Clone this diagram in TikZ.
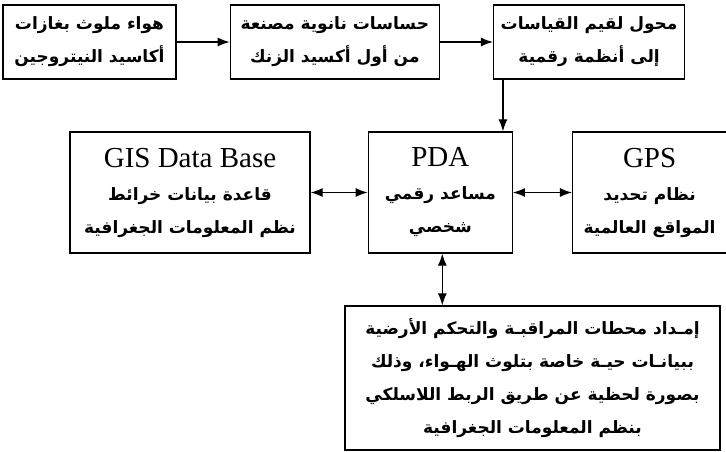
\documentclass[tikz,border=0pt]{standalone}
\usepackage{fontspec}
\setmainfont{Liberation Serif}
\newfontfamily\arabicfont[Script=Arabic]{DejaVu Sans}
\TeXXeTstate=1
\usetikzlibrary{arrows.meta,positioning,calc}
\newcommand{\artxt}[1]{{\arabicfont\bfseries\beginR #1\endR}}
\tikzset{
  blk/.style={
    draw=black, line width=1.3pt, align=center, inner sep=0pt,
    font=\fontsize{17}{33}\selectfont
  },
  toprow/.style={blk, minimum height=74pt},
  midrow/.style={blk, minimum height=121pt},
  arr/.style={-{Latex[length=12pt,width=9pt]}, draw=black, line width=1.2pt},
  darr/.style={{Latex[length=12pt,width=9pt]}-{Latex[length=12pt,width=9pt]}, draw=black, line width=1.2pt}
}

\begin{document}
\begin{tikzpicture}[x=1pt, y=-1pt]
  \useasboundingbox (0,0) rectangle (726,452);
  % sensing chain
  \node[toprow, minimum width=173pt] (air) at (89.5,42)
    {\artxt{هواء ملوث بغازات}\\\artxt{أكاسيد النيتروجين}};
  \node[toprow, minimum width=209pt, right=53pt of air] (sens)
    {\artxt{حساسات نانوية مصنعة}\\\artxt{من أول أكسيد الزنك}};
  \node[toprow, minimum width=191pt, right=53pt of sens] (conv)
    {\artxt{محول لقيم القياسات}\\\artxt{إلى أنظمة رقمية}};
  % middle row
  \node[midrow, minimum width=240pt] (gis) at (190,192.5)
    {{\fontsize{29}{30}\selectfont GIS Data Base}\\[0pt]\artxt{قاعدة بيانات خرائط}\\\artxt{نظم المعلومات الجغرافية}};
  \node[midrow, minimum width=144pt, right=57pt of gis] (pda)
    {{\fontsize{29}{30}\selectfont PDA}\\[0pt]\artxt{مساعد رقمي}\\\artxt{شخصي}};
  \node[midrow, minimum width=154pt, right=59pt of pda] (gps)
    {{\fontsize{29}{30}\selectfont GPS}\\[0pt]\artxt{نظام تحديد}\\\artxt{المواقع العالمية}};
  % ground stations
  \node[blk, minimum width=375pt, minimum height=144pt] (feed) at (532.5,378)
    {\artxt{إمـداد محطات المراقبـة والتحكم الأرضية}\\\artxt{ببيانـات حيـة خاصة بتلوث الهـواء، وذلك}\\\artxt{بصورة لحظية عن طريق الربط اللاسلكي}\\\artxt{بنظم المعلومات الجغرافية}};
  \coordinate (drop) at ([xshift=10pt]conv.south west);
  \coordinate (link) at ([xshift=2pt]pda.south);
  \draw[arr] (air) -- (sens);
  \draw[arr] (sens) -- (conv);
  \draw[arr] (drop) -- (drop |- pda.north);
  \draw[darr] (gis) -- (pda);
  \draw[darr] (pda) -- (gps);
  \draw[darr] (link) -- (link |- feed.north);
\end{tikzpicture}
\end{document}
